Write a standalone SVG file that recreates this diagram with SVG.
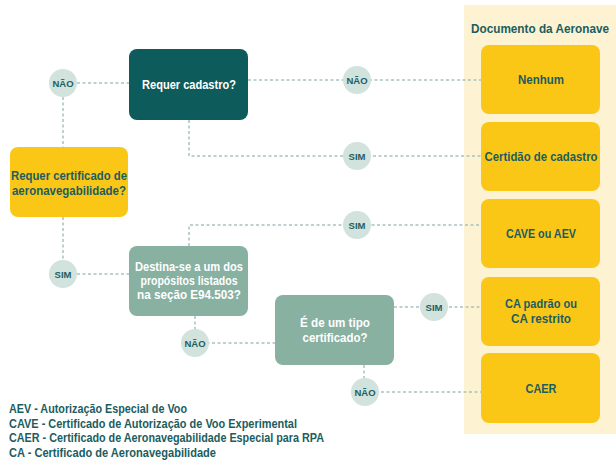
<svg xmlns="http://www.w3.org/2000/svg" width="616" height="461" viewBox="0 0 616 461">
<style>
text{font-family:"Liberation Sans Narrow","Liberation Sans",Arial,sans-serif;font-weight:bold;text-anchor:middle}
.dk{fill:#0d5b5a}
.yl{fill:#fbc716}
.gr{fill:#88b1a2}
.cir{fill:#d2e2dc}
.lbl{font-size:9.5px;fill:#1f5f61}
.t{font-size:13px;fill:#1b5d60}
.w{font-size:13px;fill:#ffffff}
.leg{font-size:12.5px;fill:#1b5d60;text-anchor:start}
.con path{fill:none;stroke:#a6c2c2;stroke-width:1.5;stroke-dasharray:3 2.5}
</style>
<rect x="464" y="5" width="152" height="429" fill="#fdf2d2"/>
<text x="540" y="33" font-size="12" fill="#1b5d60" textLength="138" lengthAdjust="spacingAndGlyphs">Documento da Aeronave</text>
<g class="con">
<path d="M77 83H129"/>
<path d="M63 97V147"/>
<path d="M248 80H481"/>
<path d="M189 120V156H481"/>
<path d="M63 217V274"/>
<path d="M77 274H129"/>
<path d="M189 246V225H481"/>
<path d="M195 316V343H275"/>
<path d="M394 307H481"/>
<path d="M364 365V392H481"/>
</g>
<g id="n-cadastro"><rect x="129" y="49" width="119" height="71" rx="8" class="dk"/><text class="w" x="189" y="89" textLength="94" lengthAdjust="spacingAndGlyphs">Requer cadastro?</text></g>
<g id="n-cert"><rect x="10" y="147" width="118" height="70" rx="8" class="yl"/><text class="t" x="69" y="180" textLength="116" lengthAdjust="spacingAndGlyphs">Requer certificado de</text><text class="t" x="69" y="195" textLength="114" lengthAdjust="spacingAndGlyphs">aeronavegabilidade?</text></g>
<g id="n-destina"><rect x="129" y="246" width="119" height="70" rx="8" class="gr"/><text class="w" x="189" y="271" textLength="108" lengthAdjust="spacingAndGlyphs">Destina-se a um dos</text><text class="w" x="189" y="285" textLength="97" lengthAdjust="spacingAndGlyphs">propósitos listados</text><text class="w" x="189" y="299" textLength="104" lengthAdjust="spacingAndGlyphs">na seção E94.503?</text></g>
<g id="n-tipo"><rect x="275" y="295" width="119" height="70" rx="8" class="gr"/><text class="w" x="335" y="327" textLength="70" lengthAdjust="spacingAndGlyphs">É de um tipo</text><text class="w" x="335" y="342" textLength="65" lengthAdjust="spacingAndGlyphs">certificado?</text></g>
<g id="d-nenhum"><rect x="481" y="45" width="119" height="69" rx="8" class="yl"/><text class="t" x="541" y="84" textLength="46" lengthAdjust="spacingAndGlyphs">Nenhum</text></g>
<g id="d-certidao"><rect x="481" y="122" width="119" height="69" rx="8" class="yl"/><text class="t" x="541" y="161" textLength="113" lengthAdjust="spacingAndGlyphs">Certidão de cadastro</text></g>
<g id="d-cave"><rect x="481" y="199" width="119" height="69" rx="8" class="yl"/><text class="t" x="541" y="238" textLength="70" lengthAdjust="spacingAndGlyphs">CAVE ou AEV</text></g>
<g id="d-ca"><rect x="481" y="277" width="119" height="69" rx="8" class="yl"/><text class="t" x="541" y="308" textLength="72" lengthAdjust="spacingAndGlyphs">CA padrão ou</text><text class="t" x="541" y="323" textLength="60" lengthAdjust="spacingAndGlyphs">CA restrito</text></g>
<g id="d-caer"><rect x="481" y="353" width="119" height="70" rx="8" class="yl"/><text class="t" x="541" y="393" textLength="31" lengthAdjust="spacingAndGlyphs">CAER</text></g>
<g id="c1"><circle cx="63" cy="83" r="14" class="cir"/><text class="lbl" x="63" y="86.5">NÃO</text></g>
<g id="c2"><circle cx="357" cy="80" r="14" class="cir"/><text class="lbl" x="357" y="83.5">NÃO</text></g>
<g id="c3"><circle cx="357" cy="156" r="14" class="cir"/><text class="lbl" x="357" y="159.5">SIM</text></g>
<g id="c4"><circle cx="357" cy="225" r="14" class="cir"/><text class="lbl" x="357" y="228.5">SIM</text></g>
<g id="c5"><circle cx="63" cy="274" r="14" class="cir"/><text class="lbl" x="63" y="277.5">SIM</text></g>
<g id="c6"><circle cx="195" cy="343" r="14" class="cir"/><text class="lbl" x="195" y="346.5">NÃO</text></g>
<g id="c7"><circle cx="434" cy="307" r="14" class="cir"/><text class="lbl" x="434" y="310.5">SIM</text></g>
<g id="c8"><circle cx="365" cy="392" r="14" class="cir"/><text class="lbl" x="365" y="395.5">NÃO</text></g>
<g id="legend">
<text class="leg" x="9" y="413" textLength="178" lengthAdjust="spacingAndGlyphs">AEV - Autorização Especial de Voo</text>
<text class="leg" x="9" y="428" textLength="288" lengthAdjust="spacingAndGlyphs">CAVE - Certificado de Autorização de Voo Experimental</text>
<text class="leg" x="9" y="442" textLength="315" lengthAdjust="spacingAndGlyphs">CAER - Certificado de Aeronavegabilidade Especial para RPA</text>
<text class="leg" x="9" y="457" textLength="207" lengthAdjust="spacingAndGlyphs">CA - Certificado de Aeronavegabilidade</text>
</g>
</svg>
